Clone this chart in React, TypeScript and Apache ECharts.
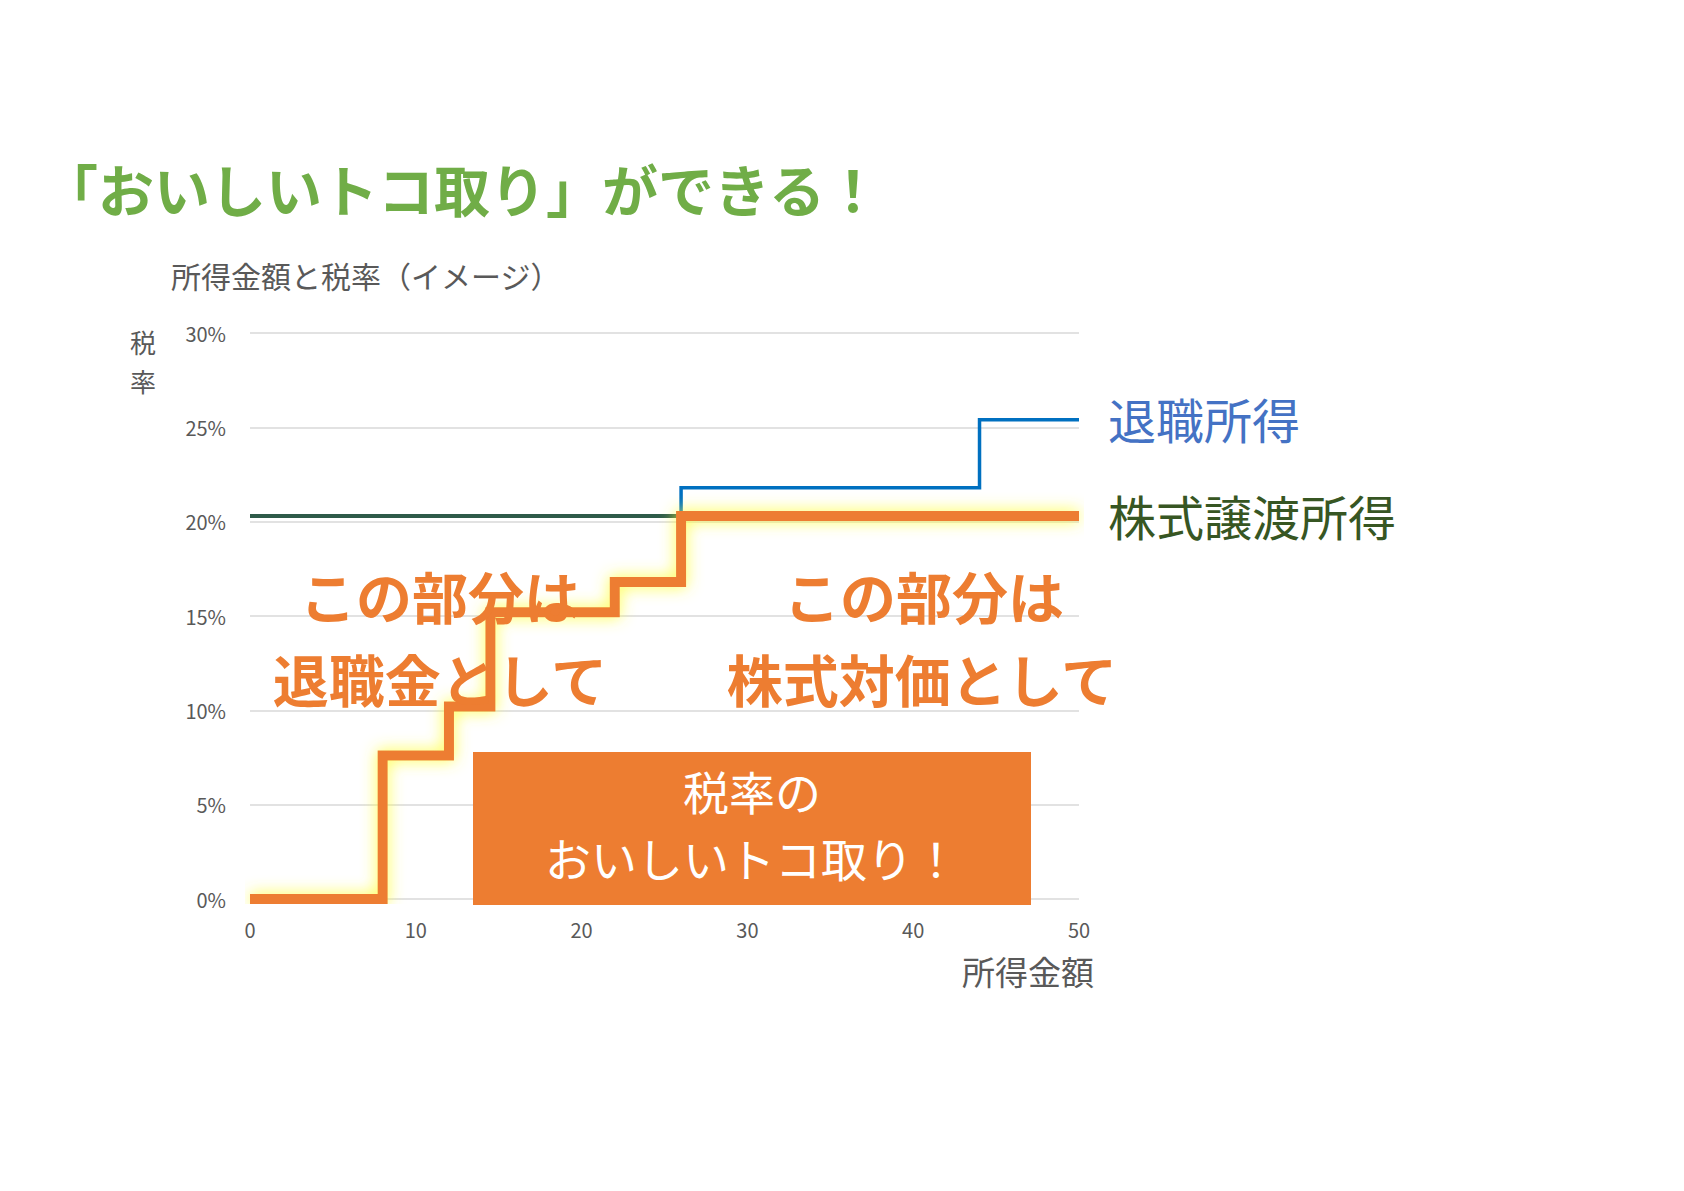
import React, { useEffect, useRef } from "react";
import * as echarts from "echarts";

const xTicks = [0, 10, 20, 30, 40, 50];
const yTicks = [0, 5, 10, 15, 20, 25, 30];

// 株式譲渡所得 (flat rate)
const stockX = [0, 50];
const stockY = [20.3, 20.3];

// 退職所得
const retireX = [26, 26, 44, 44, 50];
const retireY = [20.3, 21.8, 21.8, 25.4, 25.4];

// おいしいトコ取り (combined)
const bestX = [0, 8, 8, 12, 12, 14.5, 14.5, 22, 22, 26, 26, 50];
const bestY = [0, 0, 7.6, 7.6, 10.2, 10.2, 15.2, 15.2, 16.8, 16.8, 20.3, 20.3];

const zip = (xs: number[], ys: number[]) => xs.map((x, i) => [x, ys[i]]);

const JP = '"Noto Sans CJK JP", "Noto Sans", sans-serif';

const centerText = (text: string, x: number, y: number, fill: string, font: string, lh: number) => ({
  type: "text",
  x,
  y,
  style: { text, fill, font, lineHeight: lh, align: "center", verticalAlign: "middle" },
  z: 100,
});

export default function App() {
  const ref = useRef<HTMLDivElement>(null);
  useEffect(() => {
    if (!ref.current) return;
    const chart = echarts.init(ref.current, null, { renderer: "svg" });
    chart.setOption({
      animation: false,
      backgroundColor: "#ffffff",
      grid: { left: 250, right: 1684 - 1079, top: 333, bottom: 1191 - 899 },
      xAxis: {
        type: "value",
        min: xTicks[0],
        max: xTicks[xTicks.length - 1],
        interval: 10,
        axisLine: { show: false },
        axisTick: { show: false },
        splitLine: { show: false },
        axisLabel: { color: "#595959", fontSize: 20, fontFamily: JP, margin: 20 },
      },
      yAxis: {
        type: "value",
        min: yTicks[0],
        max: yTicks[yTicks.length - 1],
        interval: 5,
        axisLine: { show: false },
        axisTick: { show: false },
        splitLine: { lineStyle: { color: "#D9D9D9", width: 1.5 } },
        axisLabel: { color: "#595959", fontSize: 20, fontFamily: JP, margin: 24, formatter: "{value}%" },
      },
      series: [
        {
          name: "株式譲渡所得",
          type: "line",
          data: zip(stockX, stockY),
          showSymbol: false,
          lineStyle: { color: "#2E5B49", width: 4 },
          z: 2,
        },
        {
          name: "退職所得",
          type: "line",
          data: zip(retireX, retireY),
          showSymbol: false,
          lineStyle: { color: "#0070C0", width: 3.5, join: "miter" },
          z: 3,
        },
        {
          name: "おいしいトコ取り",
          type: "line",
          data: zip(bestX, bestY),
          showSymbol: false,
          lineStyle: {
            color: "#ED7D31",
            width: 10,
            join: "miter",
            cap: "butt",
            shadowColor: "rgba(255,255,60,1)",
            shadowBlur: 16,
          },
          z: 4,
        },
      ],
      graphic: [
        {
          type: "text",
          left: 42,
          top: 157,
          style: { text: "「おいしいトコ取り」ができる！", fill: "#70AD47", font: `bold 56px ${JP}`, lineHeight: 60 },
          z: 100,
        },
        {
          type: "text",
          left: 171,
          top: 258,
          style: { text: "所得金額と税率（イメージ）", fill: "#595959", font: `30px ${JP}`, lineHeight: 34 },
          z: 100,
        },
        centerText("税", 143, 341, "#595959", `26px ${JP}`, 26),
        centerText("率", 143, 380, "#595959", `26px ${JP}`, 26),
        {
          type: "text",
          right: 1684 - 1094,
          top: 953,
          style: { text: "所得金額", fill: "#595959", font: `33px ${JP}`, lineHeight: 36 },
          z: 100,
        },
        {
          type: "text",
          left: 1108,
          top: 392,
          style: { text: "退職所得", fill: "#4472C4", font: `48px ${JP}`, lineHeight: 52 },
          z: 100,
        },
        {
          type: "text",
          left: 1108,
          top: 489,
          style: { text: "株式譲渡所得", fill: "#375623", font: `48px ${JP}`, lineHeight: 52 },
          z: 100,
        },
        {
          type: "rect",
          shape: { x: 473, y: 752, width: 558, height: 153 },
          style: { fill: "#ED7D31" },
          z: 90,
        },
        centerText("税率の", 752, 790, "#ffffff", `46px ${JP}`, 50),
        centerText("おいしいトコ取り！", 752, 857, "#ffffff", `46px ${JP}`, 50),
        centerText("この部分は", 440, 594, "#ED7D31", `bold 56px ${JP}`, 60),
        centerText("退職金として", 440, 677, "#ED7D31", `bold 56px ${JP}`, 60),
        centerText("この部分は", 924, 594, "#ED7D31", `bold 56px ${JP}`, 60),
        centerText("株式対価として", 922, 677, "#ED7D31", `bold 56px ${JP}`, 60),
      ],
    });
    return () => chart.dispose();
  }, []);
  return (
    <div
      ref={ref}
      style={{ position: "absolute", left: 0, top: 0, width: 1684, height: 1191, background: "#fff" }}
    />
  );
}
